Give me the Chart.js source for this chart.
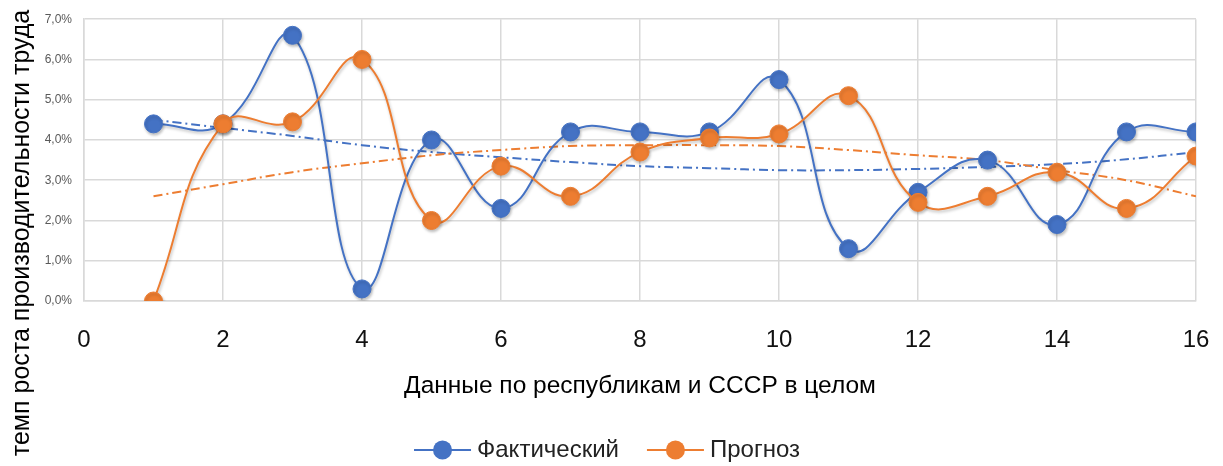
<!DOCTYPE html>
<html lang="ru">
<head>
<meta charset="utf-8">
<title>Темп роста производительности труда</title>
<script src="https://cdn.jsdelivr.net/npm/chart.js@4.4.1/dist/chart.umd.min.js"></script>
<style>
  html, body { margin: 0; padding: 0; background: #fff; }
  #wrap { width: 1223px; height: 466px; }
</style>
</head>
<body>
<div id="wrap"><canvas id="laborChart" width="1223" height="466"></canvas></div>
<script>
// республики 1..16
const regions = [1, 2, 3, 4, 5, 6, 7, 8, 9, 10, 11, 12, 13, 14, 15, 16];

// темп роста, %
const actual = [4.4, 4.4, 6.6, 0.3, 4.0, 2.3, 4.2, 4.2, 4.2, 5.5, 1.3, 2.7, 3.5, 1.9, 4.2, 4.2];
const forecast = [0.0, 4.4, 4.45, 6.0, 2.0, 3.35, 2.6, 3.7, 4.05, 4.15, 5.1, 2.45, 2.6, 3.2, 2.3, 3.6];

// полиномиальные линии тренда (2-я степень)
const actualTrend = [4.5, 4.3, 4.1, 3.87, 3.7, 3.57, 3.45, 3.35, 3.3, 3.25, 3.25, 3.28, 3.33, 3.4, 3.52, 3.7];
const forecastTrend = [2.6, 2.9, 3.2, 3.42, 3.62, 3.75, 3.85, 3.87, 3.87, 3.85, 3.75, 3.62, 3.5, 3.25, 3.0, 2.6];

const xTitle = "Данные по республикам и СССР в целом";
const yTitle = "темп роста производительности труда";

const BLUE = "#4472c4";
const ORANGE = "#ed7d31";
const FONT = "'Liberation Sans', Arial, sans-serif";

const toPoints = (values) => values.map((v, i) => ({ x: regions[i], y: v }));

// soft drop shadow under the two main series
const shadowPlugin = {
  id: "seriesShadow",
  beforeDatasetDraw(chart, args) {
    if (!chart.data.datasets[args.index].inLegend) return;
    const ctx = chart.ctx;
    ctx.save();
    ctx.shadowColor = "rgba(0, 0, 0, 0.25)";
    ctx.shadowBlur = 3;
    ctx.shadowOffsetX = 1;
    ctx.shadowOffsetY = 2;
  },
  afterDatasetDraw(chart, args) {
    if (!chart.data.datasets[args.index].inLegend) return;
    chart.ctx.restore();
  }
};

// y title is centred on the whole canvas, legend is drawn as line + marker
const extrasPlugin = {
  id: "extras",
  afterDraw(chart) {
    const ctx = chart.ctx;
    ctx.save();
    ctx.fillStyle = "#000";
    ctx.font = "25px " + FONT;
    ctx.textAlign = "center";
    ctx.textBaseline = "middle";
    ctx.translate(22, chart.height / 2);
    ctx.rotate(-Math.PI / 2);
    ctx.fillText(yTitle, 0, 0);
    ctx.restore();

    const items = chart.data.datasets.filter((d) => d.inLegend);
    ctx.save();
    ctx.font = "24px " + FONT;
    const lineLen = 57, gap = 6, spacing = 28;
    let total = 0;
    items.forEach((d, i) => {
      total += lineLen + gap + ctx.measureText(d.label).width + (i ? spacing : 0);
    });
    let x = 607 - total / 2;
    const y = 450;
    items.forEach((d, i) => {
      if (i) x += spacing;
      ctx.strokeStyle = d.borderColor;
      ctx.lineWidth = 2;
      ctx.beginPath();
      ctx.moveTo(x, y);
      ctx.lineTo(x + lineLen, y);
      ctx.stroke();
      ctx.fillStyle = d.pointBackgroundColor;
      ctx.beginPath();
      ctx.arc(x + lineLen / 2, y, 9.5, 0, Math.PI * 2);
      ctx.fill();
      x += lineLen + gap;
      ctx.fillStyle = "#222";
      ctx.textAlign = "left";
      ctx.textBaseline = "middle";
      ctx.fillText(d.label, x, y);
      x += ctx.measureText(d.label).width;
    });
    ctx.restore();
  }
};

const seriesStyle = (color) => ({
  borderColor: color,
  backgroundColor: color,
  pointBackgroundColor: color,
  pointBorderColor: color,
  borderWidth: 2,
  pointRadius: 9,
  pointBorderWidth: 1,
  tension: 0.45,
  inLegend: true
});

const trendStyle = (color) => ({
  borderColor: color,
  borderWidth: 2,
  borderDash: [9, 4, 2, 4],
  pointRadius: 0,
  tension: 0.4,
  inLegend: false
});

new Chart(document.getElementById("laborChart"), {
  type: "line",
  data: {
    datasets: [
      { label: "Фактический", data: toPoints(actual), order: 2, ...seriesStyle(BLUE) },
      { label: "Прогноз", data: toPoints(forecast), order: 1, ...seriesStyle(ORANGE) },
      { label: "Тренд факт", data: toPoints(actualTrend), order: 4, ...trendStyle(BLUE) },
      { label: "Тренд прогноз", data: toPoints(forecastTrend), order: 3, ...trendStyle(ORANGE) }
    ]
  },
  options: {
    responsive: false,
    animation: false,
    layout: { padding: { left: 0, right: 27, top: 19, bottom: 65 } },
    plugins: {
      legend: { display: false },
      tooltip: { enabled: false }
    },
    scales: {
      x: {
        type: "linear",
        min: 0,
        max: 16,
        ticks: { stepSize: 2, padding: 25, color: "#111", font: { family: FONT, size: 24 } },
        grid: { color: "#d9d9d9", lineWidth: 1.5, drawTicks: false },
        border: { color: "#d9d9d9", width: 1.5 },
        title: {
          display: true,
          text: xTitle,
          color: "#000",
          font: { family: FONT, size: 24.5 },
          padding: { top: 0, bottom: 0 }
        },
        afterFit(scale) {
          scale.height = 100;
          // tick padding should not widen the right margin
          scale.paddingRight = 0;
        }
      },
      y: {
        min: 0,
        max: 7,
        ticks: {
          stepSize: 1,
          padding: 12,
          color: "#595959",
          font: { family: FONT, size: 12 },
          callback: (v) => v.toFixed(1).replace(".", ",") + "%"
        },
        grid: { color: "#d9d9d9", lineWidth: 1.5, drawTicks: false },
        border: { color: "#d9d9d9", width: 1.5 },
        afterFit(scale) { scale.width = 84; }
      }
    }
  },
  plugins: [shadowPlugin, extrasPlugin]
});
</script>
</body>
</html>
